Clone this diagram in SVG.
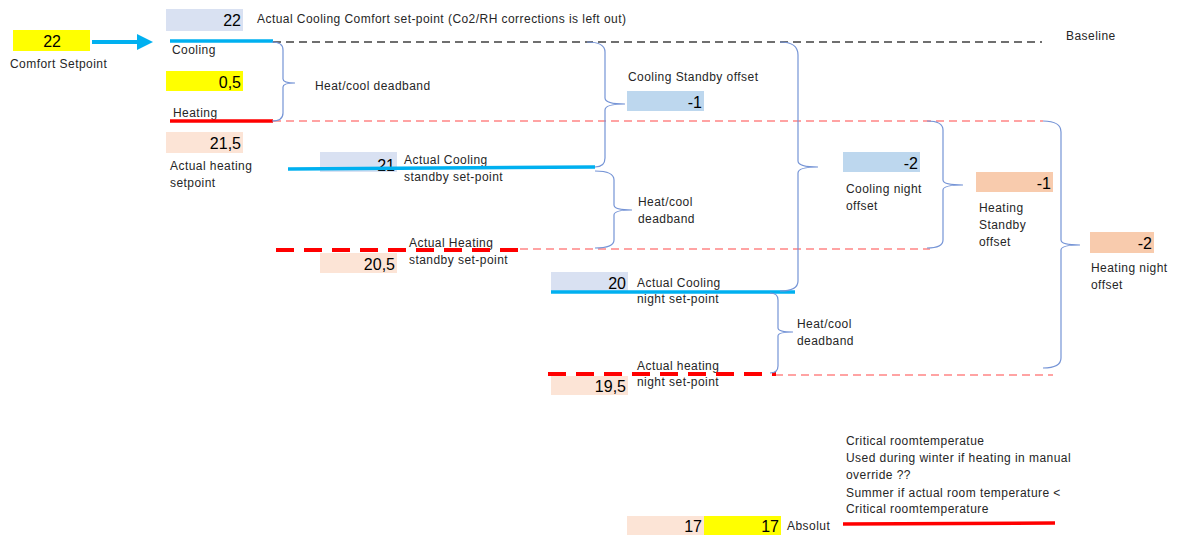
<svg xmlns="http://www.w3.org/2000/svg" width="1179" height="535" viewBox="0 0 1179 535">
<style>
.lbl{font-family:"Liberation Sans",Arial,sans-serif;font-size:12px;letter-spacing:0.45px;fill:#262626}
.num{font-family:"Liberation Sans",Arial,sans-serif;font-size:16px;fill:#000;text-anchor:end}
.yel{fill:#FFFF00}
.gb{fill:#D9E1F2}
.lb{fill:#BDD7EE}
.pk{fill:#FCE4D6}
.pk2{fill:#F8CBAD}
.brace{fill:none;stroke:#7594D6;stroke-width:1.2}
.cool{stroke:#00B0F0;stroke-width:3.5;fill:none}
.heat{stroke:#FF0000;stroke-width:3.5;fill:none}
.heatd{stroke:#FF0000;stroke-width:4;stroke-dasharray:18 10;fill:none}
.rdash{stroke:#FF4848;stroke-width:1.2;stroke-dasharray:8 5;fill:none}
.kdash{stroke:#404040;stroke-width:1.5;stroke-dasharray:8 5;fill:none}
</style>
<defs>
<marker id="ah" markerWidth="4" markerHeight="4" refX="3" refY="2" orient="auto" markerUnits="strokeWidth">
<path d="M0,0 L4,2 L0,4 Z" fill="#00B0F0"/>
</marker>
</defs>
<rect width="1179" height="535" fill="#fff"/>

<g id="comfort">
<rect class="yel" x="13" y="30" width="77" height="21"/>
<text class="num" x="61" y="47">22</text>
<text class="lbl" x="10" y="68">Comfort Setpoint</text>
</g>

<g id="cooling-comfort">
<rect class="gb" x="166" y="9" width="77" height="22"/>
<text class="num" x="241" y="26">22</text>
<text class="lbl" x="257" y="23">Actual Cooling Comfort set-point (Co2/RH corrections is left out)</text>
<text class="lbl" x="172" y="54">Cooling</text>
</g>

<g id="baseline"><text class="lbl" x="1066" y="40">Baseline</text></g>

<g id="deadband-comfort">
<rect class="yel" x="166" y="71" width="77" height="20"/>
<text class="num" x="241" y="88">0,5</text>
<text class="lbl" x="315" y="90">Heat/cool deadband</text>
</g>

<g id="heating-comfort">
<text class="lbl" x="173" y="117">Heating</text>
<rect class="pk" x="166" y="132" width="77" height="21"/>
<text class="num" x="241" y="149">21,5</text>
<text class="lbl" x="170" y="170">Actual heating</text>
<text class="lbl" x="170" y="187">setpoint</text>
</g>

<g id="cooling-standby">
<rect class="gb" x="320" y="152" width="77" height="20"/>
<text class="num" x="395" y="171">21</text>
<text class="lbl" x="404" y="164">Actual Cooling</text>
<text class="lbl" x="404" y="181">standby set-point</text>
</g>

<g id="cooling-standby-offset">
<text class="lbl" x="628" y="81">Cooling Standby offset</text>
<rect class="lb" x="627" y="91" width="77" height="20"/>
<text class="num" x="702" y="108">-1</text>
</g>

<g id="deadband-standby">
<text class="lbl" x="638" y="206">Heat/cool</text>
<text class="lbl" x="638" y="223">deadband</text>
</g>

<g id="heating-standby">
<text class="lbl" x="409" y="247">Actual Heating</text>
<text class="lbl" x="409" y="264">standby set-point</text>
<rect class="pk" x="320" y="253" width="77" height="20"/>
<text class="num" x="395" y="270">20,5</text>
</g>

<g id="cooling-night-offset">
<rect class="lb" x="843" y="152" width="77" height="20"/>
<text class="num" x="918" y="169">-2</text>
<text class="lbl" x="846" y="193">Cooling night</text>
<text class="lbl" x="846" y="210">offset</text>
</g>

<g id="heating-standby-offset">
<rect class="pk2" x="976" y="172" width="77" height="20"/>
<text class="num" x="1051" y="189">-1</text>
<text class="lbl" x="979" y="212">Heating</text>
<text class="lbl" x="979" y="229">Standby</text>
<text class="lbl" x="979" y="246">offset</text>
</g>

<g id="heating-night-offset">
<rect class="pk2" x="1090" y="232" width="64" height="21"/>
<text class="num" x="1152" y="249">-2</text>
<text class="lbl" x="1091" y="272">Heating night</text>
<text class="lbl" x="1091" y="289">offset</text>
</g>

<g id="cooling-night">
<rect class="gb" x="551" y="272" width="77" height="20"/>
<text class="num" x="626" y="289">20</text>
<text class="lbl" x="637" y="287">Actual Cooling</text>
<text class="lbl" x="637" y="303">night set-point</text>
</g>

<g id="deadband-night">
<text class="lbl" x="797" y="328">Heat/cool</text>
<text class="lbl" x="797" y="345">deadband</text>
</g>

<g id="heating-night">
<text class="lbl" x="637" y="370">Actual heating</text>
<text class="lbl" x="637" y="386">night set-point</text>
<rect class="pk" x="551" y="376" width="77" height="19"/>
<text class="num" x="626" y="392">19,5</text>
</g>

<g id="critical">
<text class="lbl" x="846" y="445">Critical roomtemperatue</text>
<text class="lbl" x="846" y="462">Used during winter if heating in manual</text>
<text class="lbl" x="846" y="479">override ??</text>
<text class="lbl" x="846" y="497">Summer  if actual room temperature &lt;</text>
<text class="lbl" x="846" y="513">Critical roomtemperature</text>
</g>

<g id="absolut">
<rect class="pk" x="627" y="516" width="77" height="19"/>
<text class="num" x="702" y="532">17</text>
<rect class="yel" x="704" y="516" width="77" height="19"/>
<text class="num" x="779" y="532">17</text>
<text class="lbl" x="787" y="530">Absolut</text>
</g>

<g id="connectors">
<path class="kdash" d="M273 42 H1042"/>
<path class="rdash" d="M273 121 H1043"/>
<path class="rdash" d="M520 249 H930"/>
<path class="rdash" d="M775 375 H1053"/>
<path d="M92 42 H149" stroke="#00B0F0" stroke-width="4" marker-end="url(#ah)" fill="none"/>
<path class="cool" d="M170 41 H273"/>
<path class="heat" d="M170 121 H273"/>
<path class="cool" d="M288 169 L595 167"/>
<path class="heatd" d="M276 250 H522"/>
<path class="cool" d="M551 292 H795"/>
<path class="heatd" d="M548 374 H776"/>
<path class="heat" d="M843 524 L1055 523"/>
<path class="brace" d="M272 42 Q283 42 283 50 V79 Q283 83 295 83 Q283 83 283 87 V113 Q283 121 272 121"/>
<path class="brace" d="M587 42 Q605 42 605 52 V98 Q605 104 625 104 Q605 104 605 110 V158 Q605 167 595 167"/>
<path class="brace" d="M595 171 Q614 171 614 180 V205 Q614 210 632 210 Q614 210 614 215 V240 Q614 248 595 248"/>
<path class="brace" d="M780 42 Q798 42 798 55 V161 Q798 167 818 167 Q798 167 798 173 V281 Q798 291 780 291"/>
<path class="brace" d="M927 121 Q943 121 943 130 V180 Q943 185 963 185 Q943 185 943 190 V240 Q943 248 927 248"/>
<path class="brace" d="M1043 121 Q1061 121 1061 132 V240 Q1061 245 1080 245 Q1061 245 1061 250 V358 Q1061 368 1043 368"/>
<path class="brace" d="M770 293 Q778 293 778 300 V328 Q778 332 793 332 Q778 332 778 336 V366 Q778 373 770 373"/>
</g>
</svg>
